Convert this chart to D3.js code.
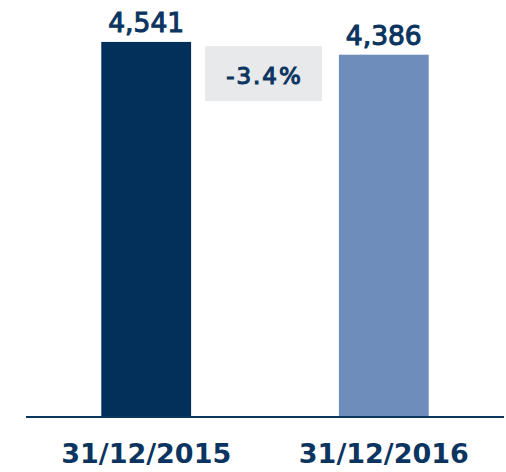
<!DOCTYPE html>
<html>
<head>
<meta charset="utf-8">
<script src="https://cdn.jsdelivr.net/npm/d3@7"></script>
<style>
  body { margin: 0; background: #fff; }
  svg { display: block; font-family: 'DejaVu Sans', sans-serif; }
</style>
</head>
<body>
<svg id="chart"></svg>
<script>
const categories = ['31/12/2015', '31/12/2016'];
const values = [4541, 4386];
const valueLabels = ['4,541', '4,386'];
const changeLabel = '-3.4%';
const colors = ['#02305a', '#6f8dba'];

const width = 506, height = 472;
const baseY = 416;
const textColor = '#0b3560';

const svg = d3.select('#chart')
  .attr('width', width)
  .attr('height', height);

// x scale
const x = d3.scaleBand()
  .domain(categories)
  .range([30, 500])
  .paddingInner(0.622)
  .paddingOuter(0.3);

// y scale
const y = d3.scaleLinear()
  .domain([0, 5050])
  .range([baseY, 0]);

// bars
svg.selectAll('rect.bar')
  .data(values)
  .join('rect')
  .attr('class', 'bar')
  .attr('x', (d, i) => x(categories[i]))
  .attr('width', x.bandwidth())
  .attr('y', d => y(d))
  .attr('height', d => y(0) - y(d))
  .attr('fill', (d, i) => colors[i]);

// value labels
svg.selectAll('text.val')
  .data(values)
  .join('text')
  .attr('class', 'val')
  .attr('x', (d, i) => x(categories[i]) + x.bandwidth() / 2)
  .attr('y', d => y(d) - 10)
  .attr('text-anchor', 'middle')
  .attr('fill', textColor)
  .style('font-size', '26.5px')
  .style('stroke', textColor)
  .style('stroke-width', 1.1)
  .text((d, i) => valueLabels[i]);

// change box between bars
const boxX0 = x(categories[0]) + x.bandwidth() + 14;
const boxX1 = x(categories[1]) - 17;
svg.append('rect')
  .attr('x', boxX0)
  .attr('y', 46)
  .attr('width', boxX1 - boxX0)
  .attr('height', 55)
  .attr('fill', '#e8e9eb');

svg.append('text')
  .attr('x', (boxX0 + boxX1) / 2 + 1)
  .attr('y', 84)
  .attr('text-anchor', 'middle')
  .attr('fill', textColor)
  .style('font-size', '23px')
  .style('letter-spacing', '2px')
  .style('stroke', textColor)
  .style('stroke-width', 1.1)
  .text(changeLabel);

// baseline
svg.append('line')
  .attr('x1', 26)
  .attr('x2', 504)
  .attr('y1', baseY + 1)
  .attr('y2', baseY + 1)
  .attr('stroke', textColor)
  .attr('stroke-width', 2);

// x axis labels
const axis = svg.append('g')
  .attr('transform', `translate(0,${baseY})`)
  .call(d3.axisBottom(x).tickSize(0));
axis.select('.domain').remove();
axis.selectAll('text')
  .attr('y', 47)
  .attr('dy', 0)
  .attr('fill', textColor)
  .style('font-family', "'DejaVu Sans', sans-serif")
  .style('font-size', '27px')
  .style('font-weight', 700);
</script>
</body>
</html>
